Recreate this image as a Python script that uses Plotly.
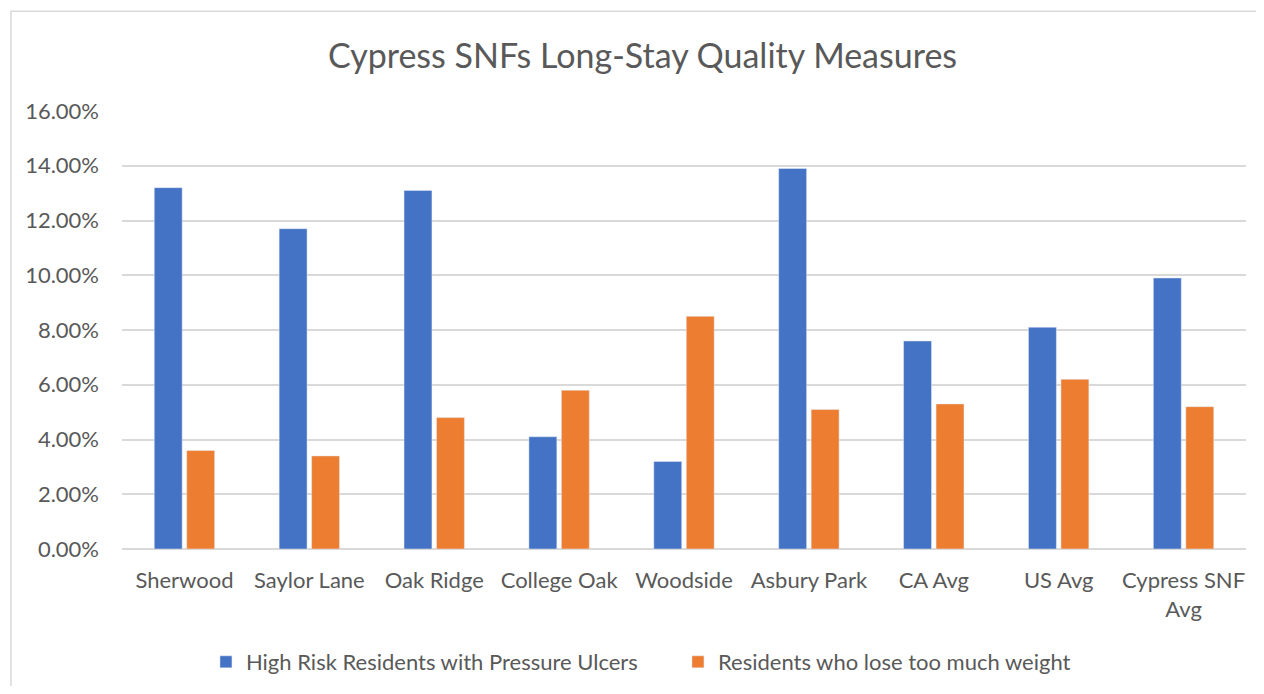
import plotly.graph_objects as go

facilities = ["Sherwood", "Saylor Lane", "Oak Ridge", "College Oak", "Woodside",
              "Asbury Park", "CA Avg", "US Avg", "Cypress SNF<br>Avg"]
pressure_ulcers = [0.132, 0.117, 0.131, 0.041, 0.032, 0.139, 0.076, 0.081, 0.099]
weight_loss = [0.036, 0.034, 0.048, 0.058, 0.085, 0.051, 0.053, 0.062, 0.052]
y_ticks = [0, 0.02, 0.04, 0.06, 0.08, 0.10, 0.12, 0.14, 0.16]

BLUE = "#4472C4"
ORANGE = "#ED7D31"
TEXT = "#595959"
GRID = "#D9D9D9"
FONT = "Lato, Carlito, Calibri, sans-serif"

fig = go.Figure()
fig.add_trace(go.Bar(x=facilities, y=pressure_ulcers, name="High Risk Residents with Pressure Ulcers",
                     marker_color=BLUE))
fig.add_trace(go.Bar(x=facilities, y=weight_loss, name="Residents who lose too much weight",
                     marker_color=ORANGE))

# page body adds an 8px margin all round, so keep the figure inside the window
fig.update_layout(
    width=1248, height=678,
    margin=dict(l=114, r=10, t=103, b=137, autoexpand=False),
    barmode="group", bargap=0.48, bargroupgap=0.14,
    paper_bgcolor="white", plot_bgcolor="white",
    font=dict(family=FONT, color=TEXT, size=22),
    xaxis=dict(showline=False, ticks="", ticklabelstandoff=16, tickfont=dict(size=22)),
    yaxis=dict(range=[0, 0.16], tickvals=y_ticks, tickformat=".2%", gridcolor=GRID, gridwidth=1.5,
               zeroline=True, zerolinecolor=GRID, zerolinewidth=1.5, ticklabelstandoff=22,
               tickfont=dict(size=22)),
    showlegend=True,
    legend=dict(orientation="h", x=0.0747, xanchor="left", y=-0.258, yanchor="middle",
                font=dict(size=22), entrywidth=427, traceorder="normal"),
    annotations=[dict(text="Cypress SNFs Long-Stay Quality Measures", xref="paper", yref="paper",
                      x=0.4635, y=1.128, xanchor="center", yanchor="middle", showarrow=False,
                      font=dict(size=34, color=TEXT, family=FONT))],
    # chart frame: only the left and top edges fall inside the picture
    shapes=[dict(type="path", xref="paper", yref="paper",
                 path="M -0.0988,-0.6 L -0.0988,1.228 L 1.3,1.228",
                 line=dict(color=GRID, width=1.5), layer="below")],
)

fig.write_html("out.html")
